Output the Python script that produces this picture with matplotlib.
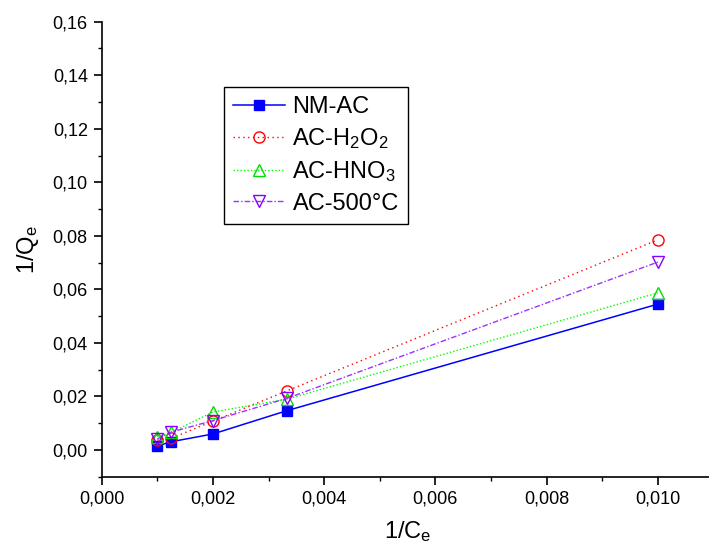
import numpy as np
import matplotlib
matplotlib.use('Agg')
import matplotlib.pyplot as plt
from matplotlib.ticker import FuncFormatter, MultipleLocator

plt.rcParams['font.family'] = ['Liberation Sans', 'DejaVu Sans']
plt.rcParams['mathtext.fontset'] = 'custom'
plt.rcParams['mathtext.rm'] = 'Liberation Sans'
plt.rcParams['mathtext.it'] = 'Liberation Sans'

# data
inv_ce = [0.001, 0.00125, 0.002, 0.00333, 0.010]
nm_ac = [0.0015, 0.0031, 0.0060, 0.0147, 0.0545]
ac_h2o2 = [0.0037, 0.0044, 0.0108, 0.0221, 0.0785]
ac_hno3 = [0.0050, 0.0066, 0.0142, 0.0190, 0.0587]
ac_500 = [0.0041, 0.0067, 0.0110, 0.0193, 0.0702]

labels = ['NM-AC', r'AC-H$_2$O$_2$', r'AC-HNO$_3$', 'AC-500°C']

fig = plt.figure(figsize=(7.09, 5.54), dpi=100)
ax = fig.add_axes([101.7/709, 1 - 476.8/554, (713.4 - 101.7)/709, (476.8 - 21.7)/554])

ax.plot(inv_ce, nm_ac, color='#0000FF', lw=1.1, ls='-', marker='s', ms=7,
        mfc='#0000FF', mec='#0000FF', label=labels[0])
ax.plot(inv_ce, ac_h2o2, color='#FF0000', lw=1.0, ls=(0, (1, 2.5)), marker='o', ms=8,
        mfc='none', mec='#FF0000', label=labels[1])
ax.plot(inv_ce, ac_hno3, color='#00FF00', lw=1.0, ls=(0, (1, 1.5)), marker='^', ms=8,
        mfc='none', mec='#00DD00', label=labels[2])
ax.plot(inv_ce, ac_500, color='#9933FF', lw=1.0, ls=(0, (4, 1.5, 1, 1.5)), marker='v', ms=8,
        mfc='none', mec='#8800FF', label=labels[3])

ax.set_xlim(0, 0.011)
ax.set_ylim(-0.01, 0.16)
ax.xaxis.set_major_locator(MultipleLocator(0.002))
ax.xaxis.set_minor_locator(MultipleLocator(0.001))
ax.yaxis.set_major_locator(MultipleLocator(0.02))
ax.yaxis.set_minor_locator(MultipleLocator(0.01))
ax.xaxis.set_major_formatter(FuncFormatter(lambda v, p: f'{v:.3f}'.replace('.', ',')))
ax.yaxis.set_major_formatter(FuncFormatter(lambda v, p: f'{v:.2f}'.replace('.', ',')))

ax.spines['top'].set_visible(False)
ax.spines['right'].set_visible(False)
for s in ['left', 'bottom']:
    ax.spines[s].set_linewidth(1.2)
ax.tick_params(which='major', direction='out', length=5.5, width=1.2, labelsize=13, pad=4.5)
ax.tick_params(which='minor', direction='out', length=3.2, width=1.0)

ax.set_xlabel(r'1/C$_\mathrm{e}$', fontsize=17, labelpad=8)
ax.set_ylabel(r'1/Q$_\mathrm{e}$', fontsize=17, labelpad=8)

leg = ax.legend(loc='lower left', bbox_to_anchor=(224/709, 1 - 224/554),
                bbox_transform=fig.transFigure, borderaxespad=0, fontsize=17,
                handlelength=2.2, handletextpad=0.3, labelspacing=0.35,
                borderpad=0.4, fancybox=False, framealpha=1, edgecolor='black')
leg.get_frame().set_linewidth(1.0)

fig.savefig('out.png', dpi=100)
